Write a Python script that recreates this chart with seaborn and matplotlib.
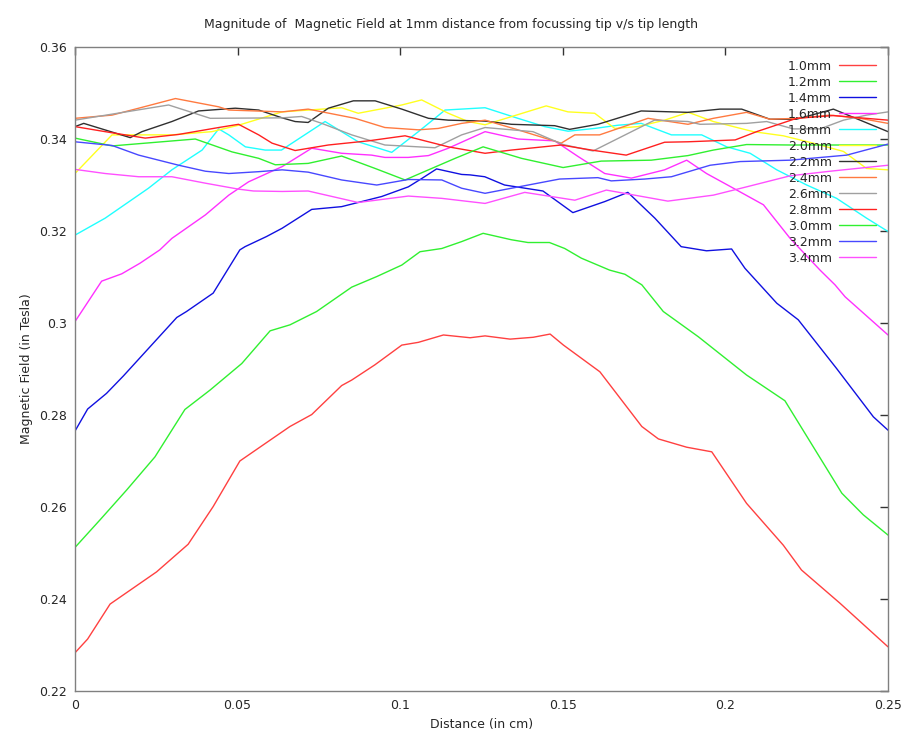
#!/usr/bin/env python3
"""Magnetic field vs distance for different focussing tip lengths."""
import numpy as np
import pandas as pd
import matplotlib
matplotlib.use("Agg")
import matplotlib.pyplot as plt
import seaborn as sns
from matplotlib.ticker import FormatStrFormatter

# ---- data (distance in cm, field in Tesla) ----
x_10 = [0, 0.0039, 0.0108, 0.0251, 0.0348, 0.0425, 0.0507, 0.0589, 0.0661, 0.0728, 0.0820, 0.0851,
        0.0922, 0.1005, 0.1056, 0.1133, 0.1215, 0.1261, 0.1338, 0.1409, 0.1461, 0.1502, 0.1614,
        0.1743, 0.1794, 0.1881, 0.1958, 0.2065, 0.2178, 0.2234, 0.2352, 0.25]
y_10 = [0.2283, 0.2313, 0.2389, 0.2459, 0.2519, 0.2601, 0.2700, 0.2740, 0.2775, 0.2801, 0.2864, 0.2876,
        0.2909, 0.2952, 0.2958, 0.2974, 0.2968, 0.2972, 0.2965, 0.2969, 0.2976, 0.2952, 0.2894,
        0.2775, 0.2748, 0.2730, 0.2720, 0.2608, 0.2517, 0.2463, 0.2391, 0.2296]

x_12 = [0, 0.0077, 0.0159, 0.0246, 0.0338, 0.0415, 0.0513, 0.0600, 0.0661, 0.0743, 0.0851, 0.0928,
        0.1005, 0.1061, 0.1128, 0.1189, 0.1255, 0.1342, 0.1393, 0.1459, 0.1506, 0.1557, 0.1644,
        0.1691, 0.1743, 0.1809, 0.1917, 0.2065, 0.2183, 0.2358, 0.2424, 0.25]
y_12 = [0.2512, 0.2572, 0.2637, 0.2709, 0.2812, 0.2854, 0.2912, 0.2983, 0.2996, 0.3025, 0.3078, 0.3101,
        0.3126, 0.3155, 0.3162, 0.3177, 0.3195, 0.3181, 0.3175, 0.3175, 0.3162, 0.3141, 0.3115,
        0.3106, 0.3083, 0.3025, 0.2970, 0.2887, 0.2831, 0.2630, 0.2583, 0.2539]

x_14 = [0, 0.0039, 0.0097, 0.0149, 0.0313, 0.0343, 0.0425, 0.0507, 0.0523, 0.0589, 0.0637, 0.0728,
        0.0820, 0.0943, 0.1025, 0.1066, 0.1112, 0.1189, 0.1215, 0.1260, 0.1321, 0.1439, 0.1531,
        0.1629, 0.1700, 0.1783, 0.1864, 0.1942, 0.2019, 0.2060, 0.2158, 0.2224, 0.2342, 0.2455, 0.25]
y_14 = [0.2765, 0.2813, 0.2847, 0.2885, 0.3012, 0.3025, 0.3065, 0.3159, 0.3166, 0.3188, 0.3206, 0.3247,
        0.3253, 0.3275, 0.3296, 0.3314, 0.3335, 0.3323, 0.3322, 0.3318, 0.3300, 0.3287, 0.3240,
        0.3264, 0.3284, 0.3228, 0.3166, 0.3157, 0.3161, 0.3119, 0.3043, 0.3007, 0.2901, 0.2796, 0.2767]

x_16 = [0, 0.0082, 0.0144, 0.0200, 0.0261, 0.0298, 0.0401, 0.0473, 0.0534, 0.0637, 0.0728, 0.0820,
        0.0912, 0.0953, 0.1025, 0.1087, 0.1148, 0.1261, 0.1362, 0.1475, 0.1547, 0.1629, 0.1711,
        0.1813, 0.1881, 0.1942, 0.2035, 0.2117, 0.2199, 0.2291, 0.2337, 0.2368, 0.25]
y_16 = [0.3003, 0.3091, 0.3107, 0.3130, 0.3159, 0.3184, 0.3235, 0.3278, 0.3307, 0.3340, 0.3380, 0.3369,
        0.3365, 0.3360, 0.3360, 0.3364, 0.3380, 0.3416, 0.3400, 0.3396, 0.3362, 0.3325, 0.3315,
        0.3333, 0.3354, 0.3325, 0.3289, 0.3257, 0.3184, 0.3115, 0.3083, 0.3057, 0.2974]

x_18 = [0, 0.0093, 0.0226, 0.0298, 0.0391, 0.0442, 0.0473, 0.0524, 0.0585, 0.0635, 0.0769, 0.0871,
        0.0974, 0.1056, 0.1138, 0.1261, 0.1362, 0.1444, 0.1516, 0.1598, 0.1670, 0.1741, 0.1834,
        0.1927, 0.2004, 0.2076, 0.2158, 0.2250, 0.2342, 0.2434, 0.25]
y_18 = [0.3191, 0.3228, 0.3293, 0.3333, 0.3376, 0.3422, 0.3409, 0.3383, 0.3376, 0.3376, 0.3438, 0.3394,
        0.3371, 0.3416, 0.3463, 0.3468, 0.3445, 0.3427, 0.3417, 0.3423, 0.3430, 0.3434, 0.3409,
        0.3409, 0.3383, 0.3369, 0.3333, 0.3300, 0.3271, 0.3228, 0.3199]

x_20 = [0, 0.0114, 0.0298, 0.0421, 0.0503, 0.0637, 0.0820, 0.0871, 0.1005, 0.1066, 0.1148, 0.1209,
        0.1261, 0.1449, 0.1516, 0.1598, 0.1660, 0.1731, 0.1813, 0.1886, 0.1963, 0.2086, 0.2178,
        0.2270, 0.2363, 0.2434, 0.25]
y_20 = [0.3325, 0.3409, 0.3409, 0.3416, 0.3430, 0.3459, 0.3468, 0.3456, 0.3474, 0.3485, 0.3456, 0.3438,
        0.3431, 0.3472, 0.3459, 0.3456, 0.3423, 0.3427, 0.3441, 0.3458, 0.3438, 0.3416, 0.3407,
        0.3391, 0.3373, 0.3336, 0.3333]

x_22 = [0, 0.0027, 0.0170, 0.0206, 0.0298, 0.0380, 0.0493, 0.0565, 0.0637, 0.0677, 0.0717, 0.0779,
        0.0856, 0.0923, 0.1005, 0.1087, 0.1148, 0.1261, 0.1342, 0.1475, 0.1521, 0.1608, 0.1741,
        0.1885, 0.1983, 0.2050, 0.2137, 0.2218, 0.2332, 0.25]
y_22 = [0.3427, 0.3434, 0.3403, 0.3416, 0.3438, 0.3461, 0.3467, 0.3463, 0.3446, 0.3438, 0.3436, 0.3467,
        0.3483, 0.3483, 0.3465, 0.3445, 0.3441, 0.3439, 0.3432, 0.3429, 0.3421, 0.3432, 0.3461,
        0.3458, 0.3465, 0.3465, 0.3443, 0.3443, 0.3465, 0.3416]

x_24 = [0, 0.0114, 0.0196, 0.0309, 0.0442, 0.0473, 0.0637, 0.0717, 0.0861, 0.0953, 0.1056, 0.1117,
        0.1189, 0.1261, 0.1362, 0.1495, 0.1537, 0.1613, 0.1762, 0.1885, 0.1963, 0.2065, 0.2137,
        0.2219, 0.2322, 0.2414, 0.25]
y_24 = [0.3445, 0.3452, 0.3467, 0.3488, 0.3470, 0.3463, 0.3459, 0.3465, 0.3445, 0.3425, 0.3420, 0.3423,
        0.3434, 0.3441, 0.3420, 0.3391, 0.3409, 0.3409, 0.3445, 0.3432, 0.3445, 0.3458, 0.3443,
        0.3445, 0.3452, 0.3445, 0.3434]

x_26 = [0, 0.0288, 0.0416, 0.0637, 0.0697, 0.0759, 0.0851, 0.0953, 0.1107, 0.1189, 0.1261, 0.1408,
        0.1501, 0.1593, 0.1782, 0.1885, 0.1922, 0.2065, 0.2127, 0.2209, 0.2291, 0.2363, 0.2434, 0.25]
y_26 = [0.3441, 0.3474, 0.3445, 0.3446, 0.3449, 0.3434, 0.3409, 0.3387, 0.3381, 0.3409, 0.3425, 0.3416,
        0.3388, 0.3374, 0.3441, 0.3438, 0.3432, 0.3434, 0.3438, 0.3422, 0.3422, 0.3441, 0.3452, 0.3459]

x_28 = [0, 0.0093, 0.0216, 0.0319, 0.0442, 0.0503, 0.0565, 0.0606, 0.0677, 0.0779, 0.0902, 0.1015,
        0.1148, 0.1261, 0.1342, 0.1495, 0.1588, 0.1695, 0.1813, 0.1885, 0.2030, 0.2096, 0.2219,
        0.2332, 0.25]
y_28 = [0.3427, 0.3416, 0.3402, 0.3410, 0.3425, 0.3432, 0.3409, 0.3391, 0.3375, 0.3387, 0.3396, 0.3407,
        0.3383, 0.3369, 0.3376, 0.3387, 0.3376, 0.3365, 0.3393, 0.3394, 0.3398, 0.3416, 0.3445,
        0.3451, 0.3441]

x_30 = [0, 0.0114, 0.0370, 0.0483, 0.0565, 0.0616, 0.0717, 0.0820, 0.0923, 0.1015, 0.1087, 0.1169,
        0.1255, 0.1373, 0.1501, 0.1618, 0.1772, 0.1885, 0.1963, 0.2065, 0.2199, 0.25]
y_30 = [0.3402, 0.3385, 0.3400, 0.3372, 0.3358, 0.3344, 0.3347, 0.3363, 0.3336, 0.3311, 0.3333, 0.3358,
        0.3383, 0.3358, 0.3338, 0.3352, 0.3354, 0.3364, 0.3376, 0.3388, 0.3387, 0.3387]

x_32 = [0, 0.0114, 0.0196, 0.0319, 0.0401, 0.0473, 0.0565, 0.0637, 0.0717, 0.0820, 0.0928, 0.1025,
        0.1128, 0.1189, 0.1261, 0.1342, 0.1490, 0.1608, 0.1649, 0.1752, 0.1834, 0.1953, 0.2045,
        0.2199, 0.2373, 0.25]
y_32 = [0.3394, 0.3386, 0.3365, 0.3343, 0.3330, 0.3325, 0.3329, 0.3333, 0.3328, 0.3311, 0.3300, 0.3312,
        0.3311, 0.3293, 0.3282, 0.3293, 0.3313, 0.3316, 0.3309, 0.3313, 0.3318, 0.3343, 0.3351,
        0.3354, 0.3365, 0.3389]

x_34 = [0, 0.0093, 0.0196, 0.0298, 0.0401, 0.0503, 0.0549, 0.0637, 0.0717, 0.0871, 0.1025, 0.1128,
        0.1261, 0.1383, 0.1537, 0.1634, 0.1823, 0.1963, 0.2065, 0.2199, 0.2322, 0.25]
y_34 = [0.3334, 0.3325, 0.3318, 0.3318, 0.3304, 0.3291, 0.3287, 0.3286, 0.3287, 0.3262, 0.3276, 0.3271,
        0.3260, 0.3284, 0.3267, 0.3289, 0.3265, 0.3278, 0.3296, 0.3320, 0.3330, 0.3343]

tip_lengths = ["1.0mm", "1.2mm", "1.4mm", "1.6mm", "1.8mm", "2.0mm", "2.2mm",
               "2.4mm", "2.6mm", "2.8mm", "3.0mm", "3.2mm", "3.4mm"]
series_x = [x_10, x_12, x_14, x_16, x_18, x_20, x_22, x_24, x_26, x_28, x_30, x_32, x_34]
series_y = [y_10, y_12, y_14, y_16, y_18, y_20, y_22, y_24, y_26, y_28, y_30, y_32, y_34]

colors = ["#ff4040", "#30f030", "#1010e0", "#ff30ff", "#20ffff", "#ffff20", "#303030",
          "#ff7a40", "#a0a0a0", "#ff2020", "#30f030", "#4848ff", "#ff50ff"]

x_ticks = [0, 0.05, 0.1, 0.15, 0.2, 0.25]
y_ticks = [0.22, 0.24, 0.26, 0.28, 0.3, 0.32, 0.34, 0.36]

frames = []
for name, xs, ys in zip(tip_lengths, series_x, series_y):
    frames.append(pd.DataFrame({"distance": xs, "field": ys, "tip": name}))
df = pd.concat(frames, ignore_index=True)

sns.set_style("white")
plt.rcParams["font.family"] = ["DejaVu Sans"]

fig = plt.figure(figsize=(9.02, 7.37), dpi=100)
ax = fig.add_axes([0.0831, 0.0624, 0.9014, 0.8738])

sns.lineplot(data=df, x="distance", y="field", hue="tip", hue_order=tip_lengths,
             palette=dict(zip(tip_lengths, colors)), estimator=None, sort=True,
             linewidth=1.0, ax=ax)

ax.set_xlim(0, 0.25)
ax.set_ylim(0.22, 0.36)
ax.set_xticks(x_ticks)
ax.set_yticks(y_ticks)
ax.xaxis.set_major_formatter(FormatStrFormatter("%g"))
ax.yaxis.set_major_formatter(FormatStrFormatter("%g"))
ax.tick_params(direction="in", length=6, width=1, color="#333333", labelsize=9,
               top=True, right=True, pad=6)
for sp in ax.spines.values():
    sp.set_color("#808080")
    sp.set_linewidth(1)

ax.set_xlabel("Distance (in cm)", fontsize=9)
ax.set_ylabel("Magnetic Field (in Tesla)", fontsize=9)
fig.suptitle("Magnitude of  Magnetic Field at 1mm distance from focussing tip v/s tip length",
             fontsize=9, y=0.975)

leg = ax.legend(loc="upper right", frameon=False, markerfirst=False, fontsize=9,
                handlelength=2.9, labelspacing=0.24, borderaxespad=0.6, handletextpad=0.6)
for line in leg.get_lines():
    line.set_linewidth(1.0)

fig.savefig("out.png", dpi=100)
